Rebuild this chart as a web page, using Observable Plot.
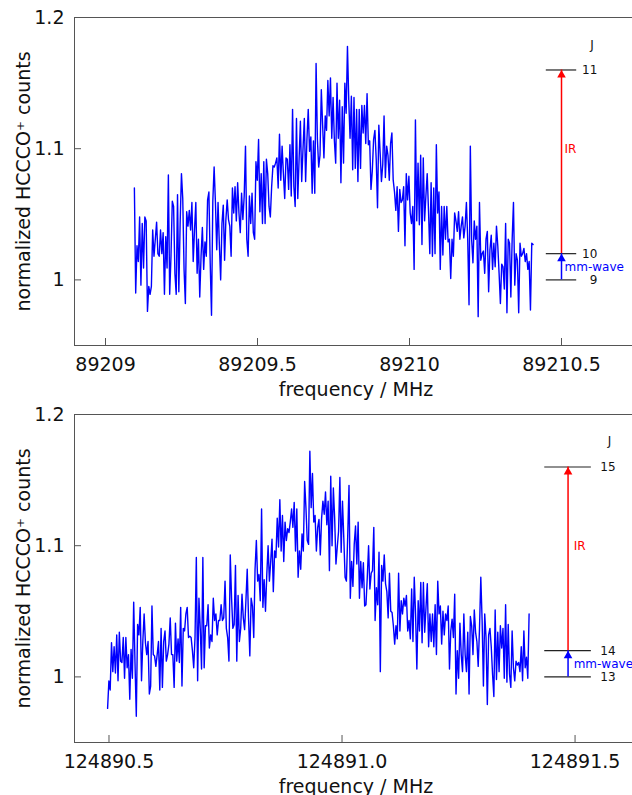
<!DOCTYPE html>
<html><head><meta charset="utf-8">
<script src="https://cdn.jsdelivr.net/npm/d3@7"></script>
<script src="https://cdn.jsdelivr.net/npm/@observablehq/plot@0.6"></script>
<style>
html,body{margin:0;padding:0;background:#fff;overflow:hidden;width:632px;height:795px;}
#chart{width:640px;}
#chart svg{display:block;max-width:none !important;width:640px !important;height:397px !important;}
</style></head><body><div id="chart"></div>
<script>
// Upper spectrum: frequency in kHz above 89209 MHz, normalized counts
const topFreqOffsetKHz = [
95,99.3,103.6,107.9,112.2,116.5,120.8,125.1,129.4,133.7,
138,142.3,146.6,150.9,155.2,159.5,163.8,168.1,172.4,176.7,
181,185.3,189.6,193.9,198.2,202.5,206.8,211.1,215.4,219.7,
224,228.3,232.6,236.9,241.2,245.5,249.8,254.1,258.4,262.7,
267,271.3,275.6,279.9,284.2,288.5,292.8,297.1,301.4,305.7,
310,314.3,318.6,322.9,327.2,331.5,335.8,340.1,344.4,348.7,
353,357.3,361.6,365.9,370.2,374.5,378.8,383.1,387.4,391.7,
396,400.3,404.6,408.9,413.2,417.5,421.8,426.1,430.4,434.7,
439,443.3,447.6,451.9,456.2,460.5,464.8,469.1,473.4,477.7,
482,486.3,490.6,494.9,499.2,503.5,507.8,512.1,516.4,520.7,
525,529.3,533.6,537.9,542.2,546.5,550.8,555.1,559.4,563.7,
568,572.3,576.6,580.9,585.2,589.5,593.8,598.1,602.4,606.7,
611,615.3,619.6,623.9,628.2,632.5,636.8,641.1,645.4,649.7,
654,658.3,662.6,666.9,671.2,675.5,679.8,684.1,688.4,692.7,
697,701.3,705.6,709.9,714.2,718.5,722.8,727.1,731.4,735.7,
740,744.3,748.6,752.9,757.2,761.5,765.8,770.1,774.4,778.7,
783,787.3,791.6,795.9,800.2,804.5,808.8,813.1,817.4,821.7,
826,830.3,834.6,838.9,843.2,847.5,851.8,856.1,860.4,864.7,
869,873.3,877.6,881.9,886.2,890.5,894.8,899.1,903.4,907.7,
912,916.3,920.6,924.9,929.2,933.5,937.8,942.1,946.4,950.7,
955,959.3,963.6,967.9,972.2,976.5,980.8,985.1,989.4,993.7,
998,1002.3,1006.6,1010.9,1015.2,1019.5,1023.8,1028.1,1032.4,1036.7,
1041,1045.3,1049.6,1053.9,1058.2,1062.5,1066.8,1071.1,1075.4,1079.7,
1084,1088.3,1092.6,1096.9,1101.2,1105.5,1109.8,1114.1,1118.4,1122.7,
1127,1131.3,1135.6,1139.9,1144.2,1148.5,1152.8,1157.1,1161.4,1165.7,
1170,1174.3,1178.6,1182.9,1187.2,1191.5,1195.8,1200.1,1204.4,1208.7,
1213,1217.3,1221.6,1225.9,1230.2,1234.5,1238.8,1243.1,1247.4,1251.7,
1256,1260.3,1264.6,1268.9,1273.2,1277.5,1281.8,1286.1,1290.4,1294.7,
1299,1303.3,1307.6,1311.9,1316.2,1320.5,1324.8,1329.1,1333.4,1337.7,
1342,1346.3,1350.6,1354.9,1359.2,1363.5,1367.8,1372.1,1376.4,1380.7,
1385,1389.3,1393.6,1397.9,1402.2,1406.5
];
const topCounts = [
1.070,0.990,1.026,1.014,1.048,0.996,1.043,1.009,1.048,1.045,
0.976,0.995,0.989,0.995,1.038,1.018,1.031,1.044,1.020,1.018,
1.038,1.020,1.036,0.989,1.033,1.009,1.080,0.989,1.018,1.060,
1.056,1.005,0.989,1.065,0.991,1.043,1.081,1.062,1.008,0.982,
1.052,1.041,1.053,1.038,1.059,1.014,1.038,1.059,1.005,1.031,
0.987,1.018,1.040,1.008,1.029,1.018,1.061,1.067,1.013,0.973,
1.060,1.086,1.059,1.023,1.059,1.027,1.000,1.043,1.057,1.015,
1.046,1.061,1.046,1.041,1.018,1.070,1.051,1.071,1.045,1.074,
1.051,1.036,1.066,1.046,1.064,1.102,1.031,1.018,1.064,1.043,
1.066,1.036,1.031,1.090,1.076,1.107,1.052,1.081,1.043,
1.090,1.043,1.092,1.081,1.056,1.048,1.071,1.087,1.086,1.089,
1.093,1.070,1.111,1.076,1.102,1.081,1.062,1.093,1.092,1.069,
1.103,1.064,1.130,1.071,1.056,1.123,1.062,1.092,1.121,1.075,
1.100,1.123,1.075,1.107,1.130,1.098,1.109,1.066,1.106,1.066,
1.165,1.107,1.086,1.095,1.145,1.118,1.093,1.125,1.114,1.152,
1.125,1.154,1.108,1.139,1.106,1.089,1.150,1.108,1.137,1.074,
1.132,1.089,1.150,1.127,1.178,1.137,1.108,1.140,1.084,1.139,
1.085,1.130,1.075,1.130,1.085,1.133,1.112,1.133,1.104,1.142,
1.103,1.106,1.069,1.083,1.107,1.114,1.092,1.055,1.118,1.097,
1.075,1.088,1.125,1.078,1.102,1.095,1.076,1.104,1.112,1.076,
1.067,1.053,1.071,1.037,1.069,1.059,
1.061,1.071,1.026,1.081,1.061,1.079,1.051,1.043,1.056,1.008,
1.122,1.045,1.089,1.042,1.095,1.027,1.093,1.045,1.064,1.081,
1.053,1.020,1.074,1.018,1.070,1.020,1.103,1.051,1.067,1.008,
1.056,1.019,1.056,1.031,1.056,1.029,1.031,1.001,1.031,1.018,
1.051,1.045,1.037,1.052,1.031,1.041,1.048,1.032,1.041,1.059,
1.031,0.981,1.102,1.031,1.013,1.045,1.031,1.041,0.972,1.059,
1.015,1.020,1.022,1.005,1.031,1.037,0.991,1.023,1.034,1.008,
1.028,1.010,1.041,1.026,1.005,0.982,1.012,1.010,0.993,1.043,
0.975,1.031,1.028,0.987,1.031,1.059,0.996,1.020,1.015,0.975,
1.028,1.018,1.020,1.024,1.014,1.020,1.008,1.014,0.977,1.028,
1.027
];
// Lower spectrum: frequency in kHz above 124890 MHz, normalized counts
const bottomFreqOffsetKHz = [
497,499.8,502.6,505.4,508.2,511,513.8,516.6,519.4,522.2,
525,527.8,530.6,533.4,536.2,539,541.8,544.6,547.4,550.2,
553,555.8,558.6,561.4,564.2,567,569.8,572.6,575.4,578.2,
581,583.8,586.6,589.4,592.2,595,597.8,600.6,603.4,606.2,
609,611.8,614.6,617.4,620.2,623,625.8,628.6,631.4,634.2,
637,639.8,642.6,645.4,648.2,651,653.8,656.6,659.4,662.2,
665,667.8,670.6,673.4,676.2,679,681.8,684.6,687.4,690.2,
693,695.8,698.6,701.4,704.2,707,709.8,712.6,715.4,718.2,
721,723.8,726.6,729.4,732.2,735,737.8,740.6,743.4,746.2,
749,751.8,754.6,757.4,760.2,763,765.8,768.6,771.4,774.2,
777,779.8,782.6,785.4,788.2,791,793.8,796.6,799.4,802.2,
805,807.8,810.6,813.4,816.2,819,821.8,824.6,827.4,830.2,
833,835.8,838.6,841.4,844.2,847,849.8,852.6,855.4,858.2,
861,863.8,866.6,869.4,872.2,875,877.8,880.6,883.4,886.2,
889,891.8,894.6,897.4,900.2,903,905.8,908.6,911.4,914.2,
917,919.8,922.6,925.4,928.2,931,933.8,936.6,939.4,942.2,
945,947.8,950.6,953.4,956.2,959,961.8,964.6,967.4,970.2,
973,975.8,978.6,981.4,984.2,987,989.8,992.6,995.4,998.2,
1001,1003.8,1006.6,1009.4,1012.2,1015,1017.8,1020.6,1023.4,1026.2,
1029,1031.8,1034.6,1037.4,1040.2,1043,1045.8,1048.6,1051.4,1054.2,
1057,1059.8,1062.6,1065.4,1068.2,1071,1073.8,1076.6,1079.4,1082.2,
1085,1087.8,1090.6,1093.4,1096.2,1099,1101.8,1104.6,1107.4,1110.2,
1113,1115.8,1118.6,1121.4,1124.2,1127,1129.8,1132.6,1135.4,1138.2,
1141,1143.8,1146.6,1149.4,1152.2,1155,1157.8,1160.6,1163.4,1166.2,
1169,1171.8,1174.6,1177.4,1180.2,1183,1185.8,1188.6,1191.4,1194.2,
1197,1199.8,1202.6,1205.4,1208.2,1211,1213.8,1216.6,1219.4,1222.2,
1225,1227.8,1230.6,1233.4,1236.2,1239,1241.8,1244.6,1247.4,1250.2,
1253,1255.8,1258.6,1261.4,1264.2,1267,1269.8,1272.6,1275.4,1278.2,
1281,1283.8,1286.6,1289.4,1292.2,1295,1297.8,1300.6,1303.4,1306.2,
1309,1311.8,1314.6,1317.4,1320.2,1323,1325.8,1328.6,1331.4,1334.2,
1337,1339.8,1342.6,1345.4,1348.2,1351,1353.8,1356.6,1359.4,1362.2,
1365,1367.8,1370.6,1373.4,1376.2,1379,1381.8,1384.6,1387.4,1390.2,
1393,1395.8,1398.6,1401.4
];
const bottomCounts = [
0.976,0.997,0.990,1.026,1.004,1.023,1.003,1.032,0.997,1.034,
1.012,1.011,1.030,0.999,1.030,1.007,1.017,0.983,1.021,0.999,
1.057,1.011,0.970,1.040,1.032,1.053,0.997,1.027,1.048,1.026,
1.017,1.027,0.987,0.993,1.054,1.017,1.016,1.008,1.017,1.027,
0.990,1.037,0.992,1.027,1.035,1.012,1.017,1.025,1.045,1.017,
1.017,0.992,1.041,1.012,1.029,1.011,1.053,0.993,1.037,1.035,
1.048,1.053,1.030,1.031,1.030,1.020,1.007,1.030,1.091,0.997,
1.060,1.037,1.006,1.091,1.007,1.039,1.039,1.055,1.022,1.032,
1.027,1.060,1.043,1.048,1.032,1.043,1.043,1.055,1.043,1.045,
1.073,1.037,1.030,1.012,1.093,1.060,1.037,1.040,1.085,1.012,
1.062,1.027,1.037,1.063,
1.045,1.036,1.058,1.082,1.045,1.016,1.060,1.054,1.030,1.082,
1.104,1.073,1.078,1.058,1.128,1.053,1.074,1.050,1.078,1.100,
1.073,1.088,1.105,1.065,1.096,1.091,1.121,1.099,1.135,1.096,
1.123,1.088,1.118,1.104,1.113,1.110,1.118,1.128,1.114,1.133,
1.096,1.128,1.076,1.096,1.082,1.109,1.096,1.149,1.129,1.104,
1.101,1.172,1.129,1.155,1.118,1.123,1.096,1.114,1.120,1.093,
1.121,1.134,1.124,1.141,1.116,1.134,1.081,1.153,1.100,1.144,
1.121,1.086,1.099,1.111,1.152,1.095,1.134,1.106,1.076,1.073,
1.107,1.146,1.060,1.088,1.069,1.101,1.115,1.086,1.118,1.060,
1.088,1.068,1.087,1.054,1.055,1.076,1.100,1.067,1.079,1.081,
1.114,1.043,1.068,1.055,1.095,1.004,1.085,1.073,1.093,1.071,
1.065,1.045,1.079,1.050,1.049,1.039,1.025,1.039,1.029,1.079,
1.035,1.058,1.048,1.060,1.054,1.062,1.035,1.043,1.029,1.067,
1.027,1.076,1.048,1.006,1.058,1.035,1.072,1.026,1.072,1.034,
1.053,1.071,1.023,1.048,1.027,1.048,1.023,1.055,1.017,1.073,
1.048,1.054,1.025,1.050,1.032,1.048,1.043,1.054,1.006,1.035,
1.044,1.030,1.063,0.987,1.020,0.999,1.041,1.017,1.004,1.048,
1.017,1.004,1.034,0.987,1.046,1.039,1.017,1.051,1.034,1.027,
1.008,1.037,1.076,1.043,0.993,1.048,1.030,0.979,1.032,1.037,
1.023,1.002,0.985,1.051,0.998,1.034,1.004,1.039,1.022,1.037,
0.999,1.055,0.996,1.040,1.002,0.992,1.035,1.007,0.997,1.012,
1.009,1.011,1.004,1.023,0.997,1.035,1.007,1.015,0.999,1.048
];
// Axis ticks and labels
const topXTicks = [89209, 89209.5, 89210, 89210.5];
const topXTickLabels = ["89209", "89209.5", "89210", "89210.5"];
const bottomXTicks = [124890.5, 124891.0, 124891.5];
const bottomXTickLabels = ["124890.5", "124891.0", "124891.5"];
const yTicks = [1, 1.1, 1.2];
const yTickLabels = ["1", "1.1", "1.2"];
// Energy-level diagram
const topLevelJ = [9, 10, 11];
const bottomLevelJ = [13, 14, 15];
const levelHeights = [1.0, 1.02, 1.16];

const W = 640, H = 397, ML = 74, MR = 3, MT = 17, MB = 52;
const frameW = W - ML - MR, frameH = H - MT - MB;
const TICK = 7;
const axisColor = "#555";
const FONT = "'DejaVu Sans', sans-serif";

function panel(cfg) {
  const n = Math.min(cfg.freqs.length, cfg.counts.length);
  const rows = [];
  for (let i = 0; i < n; i++) rows.push({f: cfg.base + cfg.freqs[i] / 1000, c: cfg.counts[i]});
  const xLab = new Map(cfg.xTicks.map((t, i) => [t, cfg.xTickLabels[i]]));
  const yLab = new Map(yTicks.map((t, i) => [t, yTickLabels[i]]));
  const levels = cfg.levelJ.map((j, i) => ({j, y: levelHeights[i]}));
  const d = cfg.diagram;
  const ir = [{y1: levelHeights[1], y2: levelHeights[2]}];
  const mm = [{y1: levelHeights[0], y2: levelHeights[1]}];
  return Plot.plot({
    width: W, height: H,
    marginLeft: ML, marginRight: MR, marginTop: MT, marginBottom: MB,
    style: {fontFamily: FONT, fontSize: "19px", color: "#111", background: "white", overflow: "visible"},
    x: {domain: cfg.xDomain},
    y: {domain: [0.95, 1.2]},
    marks: [
      Plot.frame({stroke: axisColor, strokeWidth: 1}),
      Plot.ruleX(cfg.xTicks, {x: t => t, insetTop: frameH - TICK, stroke: axisColor}),
      Plot.ruleY(yTicks, {y: t => t, insetRight: frameW - TICK, stroke: axisColor}),
      Plot.axisX(cfg.xTicks, {tickSize: 0, tickPadding: 12, tickFormat: t => xLab.get(t), label: null, fontSize: 19}),
      Plot.axisY(yTicks, {tickSize: 0, tickPadding: 10, tickFormat: t => yLab.get(t), label: null, fontSize: 19}),
      Plot.text(["frequency / MHz"], {frameAnchor: "bottom", dy: 44, text: s => s, textAnchor: "middle", lineAnchor: "middle", fontSize: 19, fill: "#111"}),
      Plot.text(["normalized HCCCO\u207A counts"], {frameAnchor: "left", dx: -51, rotate: -90, text: s => s, textAnchor: "middle", lineAnchor: "middle", fontSize: 19, fill: "#111"}),
      Plot.line(rows, {x: "f", y: "c", stroke: "#0000ff", strokeWidth: 1.4}),
      Plot.ruleY(levels, {y: "y", x1: () => d.levelX1, x2: () => d.levelX2, stroke: "#222", strokeWidth: 1.2}),
      Plot.text(levels, {x: () => d.labelX, y: "y", text: l => String(l.j), textAnchor: "end", lineAnchor: "middle", fontSize: 12, fill: "#111"}),
      Plot.text(["J"], {x: () => d.jX, y: () => d.jY, text: s => s, textAnchor: "middle", lineAnchor: "middle", fontSize: 12, fill: "#111"}),
      Plot.ruleX(ir, {x: () => d.arrowX, y1: "y1", y2: "y2", stroke: "#ff0000", strokeWidth: 1.5}),
      Plot.ruleX(mm, {x: () => d.arrowX, y1: "y1", y2: "y2", stroke: "#0000ff", strokeWidth: 1.5}),
      Plot.dot(ir, {x: () => d.arrowX, y: "y2", symbol: "triangle", r: 3.2, dy: 5, fill: "#ff0000", stroke: "none"}),
      Plot.dot(mm, {x: () => d.arrowX, y: "y2", symbol: "triangle", r: 3.2, dy: 5, fill: "#0000ff", stroke: "none"}),
      Plot.text(["IR"], {x: () => d.textX, y: () => 1.1, text: s => s, textAnchor: "start", lineAnchor: "middle", fontSize: 12, fill: "#ff0000"}),
      Plot.text(["mm-wave"], {x: () => d.textX, y: () => 1.01, text: s => s, textAnchor: "start", lineAnchor: "middle", fontSize: 12, fill: "#0000ff"})
    ]
  });
}

const chart = document.getElementById("chart");
chart.appendChild(panel({
  base: 89209, freqs: topFreqOffsetKHz, counts: topCounts,
  xDomain: [89208.898, 89210.75], xTicks: topXTicks, xTickLabels: topXTickLabels,
  levelJ: topLevelJ,
  diagram: {levelX1: 89210.45, levelX2: 89210.55, arrowX: 89210.5, labelX: 89210.618, jX: 89210.6, jY: 1.1786, textX: 89210.51}
}));
chart.appendChild(panel({
  base: 124890, freqs: bottomFreqOffsetKHz, counts: bottomCounts,
  xDomain: [124890.426, 124891.634], xTicks: bottomXTicks, xTickLabels: bottomXTickLabels,
  levelJ: bottomLevelJ,
  diagram: {levelX1: 124891.435, levelX2: 124891.535, arrowX: 124891.485, labelX: 124891.587, jX: 124891.574, jY: 1.1796, textX: 124891.497}
}));
</script></body></html>
